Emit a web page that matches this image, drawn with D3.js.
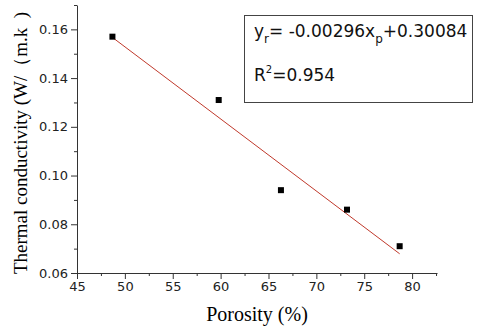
<!DOCTYPE html>
<html>
<head>
<meta charset="utf-8">
<script src="https://cdn.jsdelivr.net/npm/d3@7"></script>
<style>
  body { margin: 0; background: #fff; }
  svg { display: block; }
</style>
</head>
<body>
<svg id="chart" width="480" height="330"></svg>
<script>
// measured points
var porosity = [48.7, 59.8, 66.3, 73.2, 78.7];
var conductivity = [0.157, 0.131, 0.094, 0.086, 0.071];

// linear fit shown in the box
var fitSlope = -0.00296;
var fitIntercept = 0.30084;
var fitR2 = "0.954";

var xTicks = [45, 50, 55, 60, 65, 70, 75, 80];
var xMinor = [47.5, 52.5, 57.5, 62.5, 67.5, 72.5, 77.5, 82.5];
var yTicks = [0.06, 0.08, 0.10, 0.12, 0.14, 0.16];
var yMinor = [0.07, 0.09, 0.11, 0.13, 0.15, 0.17];

var svg = d3.select("#chart");

var x = d3.scaleLinear().domain([45, 82.6]).range([77, 437]);
var y = d3.scaleLinear().domain([0.06, 0.17]).range([273, 5]);

var tickFont = "'DejaVu Sans', sans-serif";
var serif = "'Liberation Serif', 'Times New Roman', serif";

// x axis
var gx = svg.append("g").attr("transform", "translate(0,273)")
  .call(d3.axisBottom(x).tickValues(xTicks).tickFormat(d3.format("d")).tickSize(6).tickSizeOuter(0));
svg.append("g").attr("transform", "translate(0,273)")
  .call(d3.axisBottom(x).tickValues(xMinor).tickFormat("").tickSize(3).tickSizeOuter(0))
  .select(".domain").remove();

// y axis
var gy = svg.append("g").attr("transform", "translate(77,0)")
  .call(d3.axisLeft(y).tickValues(yTicks).tickFormat(d3.format(".2f")).tickSize(6).tickSizeOuter(0));
svg.append("g").attr("transform", "translate(77,0)")
  .call(d3.axisLeft(y).tickValues(yMinor).tickFormat("").tickSize(3).tickSizeOuter(0))
  .select(".domain").remove();

svg.selectAll(".tick line").attr("stroke", "#333");
svg.selectAll(".domain").attr("stroke", "#333");
gx.selectAll("text").style("font-family", tickFont).style("font-size", "13px")
  .attr("fill", "#222").attr("y", 9);
gy.selectAll("text").style("font-family", tickFont).style("font-size", "13px")
  .attr("fill", "#222").attr("x", -9);

// axis titles
svg.append("text")
  .attr("x", 257).attr("y", 321)
  .attr("text-anchor", "middle")
  .style("font-family", serif).style("font-size", "20px")
  .text("Porosity (%)");

svg.append("text")
  .attr("transform", "translate(27,143) rotate(-90)")
  .attr("text-anchor", "middle")
  .style("font-family", serif).style("font-size", "19px")
  .text("Thermal conductivity (W/（m.k\u2002)");

// fit line
var x0 = d3.min(porosity), x1 = d3.max(porosity);
svg.append("line")
  .attr("x1", x(x0)).attr("y1", y(fitSlope * x0 + fitIntercept))
  .attr("x2", x(x1)).attr("y2", y(fitSlope * x1 + fitIntercept))
  .attr("stroke", "#c0392b").attr("stroke-width", 1);

// points
svg.selectAll("rect.pt")
  .data(porosity)
  .enter().append("rect")
  .attr("class", "pt")
  .attr("x", function(d){ return x(d) - 3; })
  .attr("y", function(d, i){ return y(conductivity[i]) - 3; })
  .attr("width", 6).attr("height", 6)
  .attr("fill", "#000");

// equation box
svg.append("rect")
  .attr("x", 244.5).attr("y", 15.5)
  .attr("width", 228).attr("height", 87)
  .attr("fill", "#fff").attr("stroke", "#444").attr("stroke-width", 1);

var eq = svg.append("text")
  .attr("x", 254).attr("y", 37)
  .style("font-family", tickFont).style("font-size", "17px").attr("fill", "#111");
eq.append("tspan").text("y");
eq.append("tspan").attr("dy", 6).style("font-size", "12px").text("r");
eq.append("tspan").attr("dy", -6).text("= " + fitSlope.toFixed(5) + "x");
eq.append("tspan").attr("dy", 6).style("font-size", "12px").text("p");
eq.append("tspan").attr("dy", -6).text("+" + fitIntercept.toFixed(5));

var r2 = svg.append("text")
  .attr("x", 254).attr("y", 81)
  .style("font-family", tickFont).style("font-size", "17px").attr("fill", "#111");
r2.append("tspan").text("R");
r2.append("tspan").attr("dy", -8).style("font-size", "10px").text("2");
r2.append("tspan").attr("dy", 8).text("=" + fitR2);
</script>
</body>
</html>
